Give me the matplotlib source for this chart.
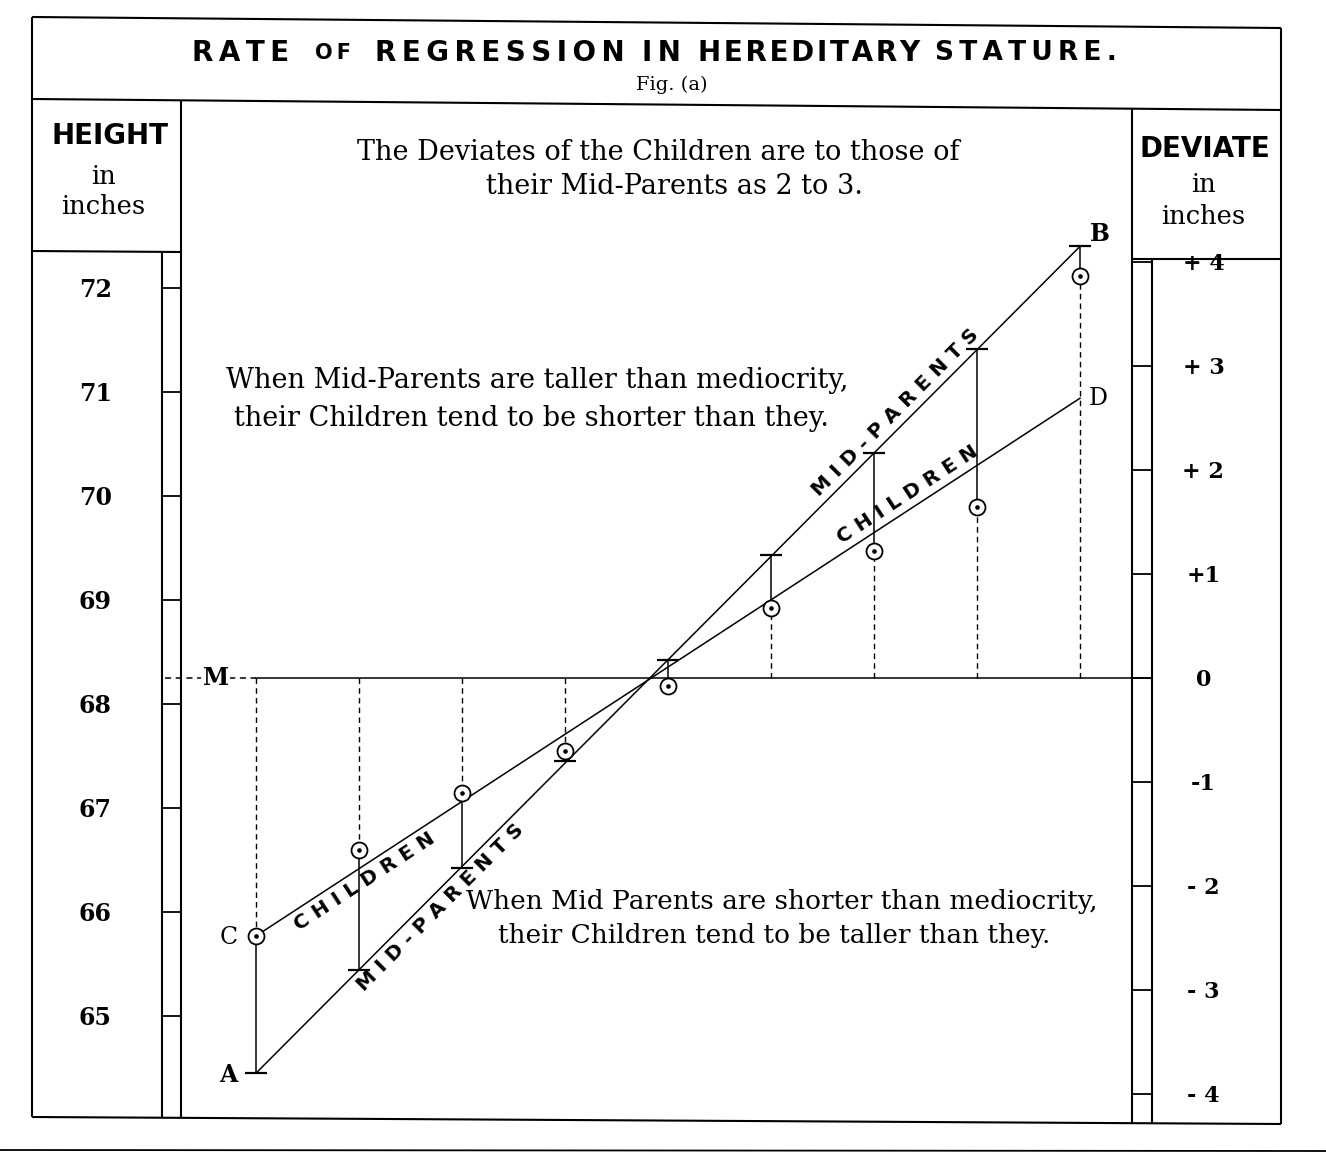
"""Galton: rate of regression in hereditary stature"""

import numpy as np
import matplotlib
matplotlib.use("Agg")
import matplotlib.pyplot as plt
from matplotlib.lines import Line2D
from matplotlib.transforms import offset_copy

W, H = 1326, 1154

# data (inches)
mediocrity = 68.25
mid_parent_x = [64.5, 65.5, 66.5, 67.5, 68.5, 69.5, 70.5, 71.5, 72.5]
mid_parent = [64.45, 65.44, 66.42, 67.45, 68.42, 69.43, 70.41, 71.41, 72.40]
children = [65.77, 66.60, 67.14, 67.55, 68.17, 68.92, 69.47, 69.89, 72.12]
children_line = [65.77, 70.94]   # C .. D
height_ticks = [65, 66, 67, 68, 69, 70, 71, 72]
deviate_ticks = [-4, -3, -2, -1, 0, 1, 2, 3, 4]
deviate_labels = ["- 4", "- 3", "- 2", "-1", "0", "+1", "+ 2", "+ 3", "+ 4"]

SERIF = "DejaVu Serif"
SANS = "DejaVu Sans"
THIN = "\u2009"
HAIR = "\u200a"


def fx(x):
    return x / W


def fy(y):
    return 1 - y / H


fig = plt.figure(figsize=(W / 100, H / 100), dpi=100)
fig.patch.set_facecolor("white")


def fline(x0, y0, x1, y1, lw=1.5, **kw):
    fig.add_artist(Line2D([fx(x0), fx(x1)], [fy(y0), fy(y1)], color="k",
                          lw=lw, solid_capstyle="butt", **kw))


def ftext(x, y, s, **kw):
    fig.text(fx(x), fy(y), s, ha="center", va="center", **kw)


# main plot area
ax = fig.add_axes([fx(181), fy(1120), (1132 - 181) / W, (1120 - 104) / H])
ax.set_xlim(63.772, 73.005)
ax.set_ylim(64.0, 73.769)
ax.patch.set_alpha(0)
for s in ax.spines.values():
    s.set_visible(False)
ax.set_xticks([])

# left scale: heights
ax.set_yticks(height_ticks)
ax.tick_params(axis="y", direction="out", length=13.7, width=1.3, pad=48,
               labelsize=17)
for lab in ax.get_yticklabels():
    lab.set_horizontalalignment("center")
    lab.set_fontfamily(SERIF)
    lab.set_fontweight("bold")

# right scale: deviates
sec = ax.secondary_yaxis("right", functions=(lambda h: h - mediocrity,
                                             lambda d: d + mediocrity))
sec.set_yticks(deviate_ticks)
sec.set_yticklabels(deviate_labels)
sec.spines["right"].set_visible(False)
sec.tick_params(axis="y", direction="out", length=14.4, width=1.3, pad=37,
                labelsize=16)
for lab in sec.get_yticklabels():
    lab.set_horizontalalignment("center")
    lab.set_fontfamily(SERIF)
    lab.set_fontweight("bold")

# mediocrity line
x_end = 73.2
ax.plot([mid_parent_x[0], x_end], [mediocrity, mediocrity], color="k",
        lw=1.1, clip_on=False)
ax.plot([63.62, mid_parent_x[0]], [mediocrity, mediocrity], color="k",
        lw=1.1, ls=(0, (4, 3)), clip_on=False)
ax.text(64.11, mediocrity, "M", ha="center", va="center", fontsize=17,
        family=SERIF, fontweight="bold",
        bbox=dict(facecolor="white", edgecolor="none", pad=1), zorder=5)

# sloping lines
ax.plot([mid_parent_x[0], mid_parent_x[-1]], [mid_parent[0], mid_parent[-1]],
        color="k", lw=1.1)
ax.plot([mid_parent_x[0], mid_parent_x[-1]], children_line, color="k", lw=1.1)

# verticals
for x, mp, ch in zip(mid_parent_x, mid_parent, children):
    ax.plot([x, x], [mp, ch], color="k", lw=1.1)
    if (mp - mediocrity) * (ch - mediocrity) > 0:
        near = ch if abs(ch - mediocrity) < abs(mp - mediocrity) else mp
        ax.plot([x, x], [mediocrity, near], color="k", lw=1.0,
                ls=(0, (4, 3)))

ax.plot(mid_parent_x, mid_parent, ls="none", marker="_", ms=16, mew=1.6,
        color="k", zorder=4)
ax.plot(mid_parent_x, children, ls="none", marker="o", ms=11.5, mew=1.3,
        mfc="white", mec="k", zorder=4)
ax.plot(mid_parent_x, children, ls="none", marker="o", ms=2.3, color="k",
        zorder=5)

# point letters
lab_kw = dict(textcoords="offset points", ha="center", va="center",
              family=SERIF, fontsize=17)
ax.annotate("A", (mid_parent_x[0], mid_parent[0]), xytext=(-20, -1),
            fontweight="bold", **lab_kw)
ax.annotate("C", (mid_parent_x[0], children[0]), xytext=(-20, -1), **lab_kw)
ax.annotate("B", (mid_parent_x[-1], mid_parent[-1]), xytext=(14, 9),
            fontweight="bold", **lab_kw)
ax.annotate("D", (mid_parent_x[-1], children_line[-1]), xytext=(13, 0),
            **lab_kw)


# labels along the lines
def along(xpos, ys, text, above):
    xs = [mid_parent_x[0], mid_parent_x[-1]]
    yv = np.interp(xpos, xs, ys)
    p0, p1 = ax.transData.transform([(xs[0], ys[0]), (xs[1], ys[1])])
    ang = np.degrees(np.arctan2(p1[1] - p0[1], p1[0] - p0[0]))
    d = 3 if above else -3
    nx, ny = -np.sin(np.radians(ang)) * d, np.cos(np.radians(ang)) * d
    tr = offset_copy(ax.transData, fig=fig, x=nx, y=ny, units="points")
    ax.text(xpos, yv, text, transform=tr, rotation=ang,
            rotation_mode="anchor", ha="center",
            va="bottom" if above else "top", family=SANS, fontsize=14.5,
            fontweight="bold")


mp_ends = [mid_parent[0], mid_parent[-1]]
along(70.8, mp_ends, "M I D - P A R E N T S", True)
along(66.2, mp_ends, "M I D - P A R E N T S", False)
along(70.9, children_line, "C H I L D R E N", True)
along(65.48, children_line, "C H I L D R E N", False)

# frame
fline(32, 17, 1281, 28)
fline(32, 99, 1281, 110)
fline(32, 1117, 1281, 1124)
fline(32, 17, 32, 1117)
fline(1281, 28, 1281, 1124)
fline(181, 100, 181, 1118)
fline(1132, 109, 1132, 1123)
fline(32, 251, 181, 252)
fline(1132, 259, 1281, 259)
fline(162, 252, 162, 1118)
fline(1152, 259, 1152, 1123)
fline(0, 1150, 1326, 1151, lw=1.3)

# title, letter-spaced
words = [("RATE", 241, 20, THIN), ("OF", 333, 15, THIN),
         ("REGRESSION", 500, 20, THIN), ("IN", 661, 20, THIN),
         ("HEREDITARY", 809, 20, HAIR), ("STATURE.", 1026, 19, THIN)]
for w, cx, fs, gap in words:
    ftext(cx, 53, gap.join(w), family=SANS, fontsize=fs, fontweight="bold")
ftext(672, 85, "Fig. (a)", family=SERIF, fontsize=14)

# column headers
ftext(110, 136, "HEIGHT", family=SANS, fontsize=20, fontweight="bold")
ftext(103, 177, "in", family=SERIF, fontsize=18.5)
ftext(103, 207, "inches", family=SERIF, fontsize=18.5)
ftext(1205, 149, "DEVIATE", family=SANS, fontsize=20, fontweight="bold")
ftext(1203, 184, "in", family=SERIF, fontsize=18.5)
ftext(1203, 216, "inches", family=SERIF, fontsize=18.5)

# notes
note = dict(family=SERIF, fontsize=19.5)
ftext(658, 153, "The Deviates of the Children are to those of", **note)
ftext(674, 186, "their Mid-Parents as 2 to 3.", **note)
ftext(537, 381, "When Mid-Parents are taller than mediocrity,", **note)
ftext(531, 418, "their Children tend to be shorter than they.", **note)
ftext(782, 902, "When Mid Parents are shorter than mediocrity,",
      family=SERIF, fontsize=19)
ftext(774, 936, "their Children tend to be taller than they.",
      family=SERIF, fontsize=19)

fig.savefig("out.png", dpi=100, facecolor="white")
